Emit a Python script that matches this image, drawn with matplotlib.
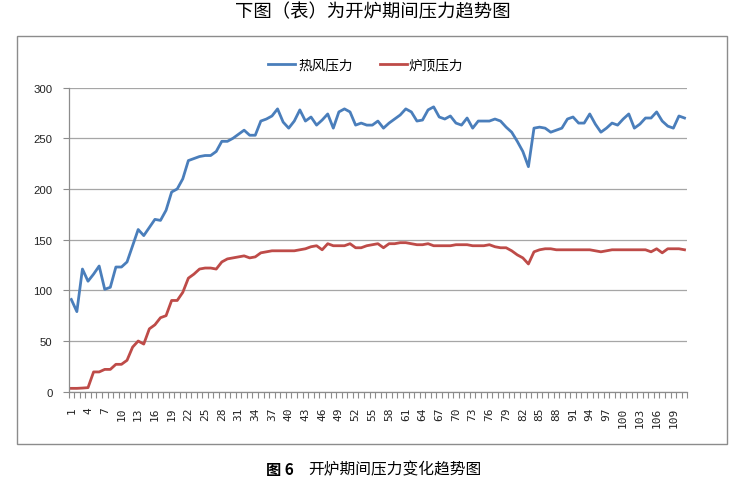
import matplotlib
matplotlib.use("Agg")
import matplotlib.pyplot as plt
from matplotlib.patches import Rectangle
from matplotlib.lines import Line2D
import numpy as np

plt.rcParams['font.family'] = ['Noto Sans CJK SC', 'DejaVu Sans']

title = "下图（表）为开炉期间压力趋势图"
caption_bold = "图 6"
caption_text = "开炉期间压力变化趋势图"
series_names = ["热风压力", "炉顶压力"]

hot_blast = [91, 79, 121, 109, 116, 124, 101, 103, 123, 123,
             128, 144, 160, 154, 162, 170, 169, 179, 197, 200,
             210, 228, 230, 232, 233, 233, 237, 247, 247, 250,
             254, 258, 253, 253, 267, 269, 272, 279, 266, 260,
             267, 278, 267, 271, 263, 268, 274, 260, 276, 279,
             276, 263, 265, 263, 263, 267, 260, 265, 269, 273,
             279, 276, 267, 268, 278, 281, 271, 269, 272, 265,
             263, 270, 260, 267, 267, 267, 269, 267, 261, 256,
             247, 237, 222, 260, 261, 260, 256, 258, 260, 269,
             271, 265, 265, 274, 264, 256, 260, 265, 263, 269,
             274, 260, 264, 270, 270, 276, 267, 262, 260, 272,
             270]
furnace_top = [3.3, 3.3, 3.6, 4, 19.5, 19.5, 22, 22, 27, 27,
               31, 44, 50, 47, 62, 66, 73, 75, 90, 90,
               98, 112, 116, 121, 122, 122, 121, 128, 131, 132,
               133, 134, 132, 133, 137, 138, 139, 139, 139, 139,
               139, 140, 141, 143, 144, 140, 146, 144, 144, 144,
               146, 142, 142, 144, 145, 146, 142, 146, 146, 147,
               147, 146, 145, 145, 146, 144, 144, 144, 144, 145,
               145, 145, 144, 144, 144, 145, 143, 142, 142, 139,
               135, 132, 126, 138, 140, 141, 141, 140, 140, 140,
               140, 140, 140, 140, 139, 138, 139, 140, 140, 140,
               140, 140, 140, 140, 138, 141, 137, 141, 141, 141,
               140]
categories = list(range(1, len(hot_blast) + 1))
y_ticks = [0, 50, 100, 150, 200, 250, 300]

W, H = 754, 489
fig = plt.figure(figsize=(W / 100, H / 100), dpi=100)

# chart frame
fig.patches.append(Rectangle((17 / W, 1 - 444.8 / H), (727 - 17) / W, (444.8 - 36.7) / H,
                             transform=fig.transFigure, fill=False,
                             edgecolor='#8c8c8c', linewidth=1.0))

left, right, top, bottom = 68.5, 687.3, 88.6, 392.7
ax = fig.add_axes([left / W, 1 - bottom / H, (right - left) / W, (bottom - top) / H])

blue = '#4A7EBB'
red = '#BE4B48'
ax.plot(categories, hot_blast, color=blue, lw=2.0, solid_joinstyle='round')
ax.plot(categories, furnace_top, color=red, lw=2.0, solid_joinstyle='round')

ax.set_xlim(0.5, len(categories) + 0.5)
ax.set_ylim(0, 300)
ax.set_yticks(y_ticks)
ax.set_yticklabels([str(v) for v in y_ticks], fontsize=8.2, family=['Liberation Sans'],
                   color='#222222')
ax.yaxis.grid(True, color='#a6a6a6', lw=0.9)
ax.set_axisbelow(True)

major = categories[::3]
ax.set_xticks(major)
ax.set_xticklabels([str(c) for c in major], rotation=90, fontsize=8.0,
                   family=['DejaVu Sans Mono'], color='#222222')
ax.set_xticks(np.arange(0.5, len(categories) + 1, 1.0), minor=True)
ax.tick_params(axis='x', which='major', length=0, pad=10.5)
ax.tick_params(axis='x', which='minor', length=4, color='#8c8c8c', width=0.8)
ax.tick_params(axis='y', length=4, color='#8c8c8c', width=0.8, pad=7.5)

for s in ['top', 'right']:
    ax.spines[s].set_visible(False)
for s in ['left', 'bottom']:
    ax.spines[s].set_color('#8c8c8c')
    ax.spines[s].set_linewidth(0.9)

# title
fig.text(372.5 / W, 1 - 12.5 / H, title, ha='center', va='center', fontsize=13.2)

# legend
ly = 1 - 65 / H
fig.add_artist(Line2D([268 / W, 295 / W], [ly, ly], color=blue, lw=2.0, transform=fig.transFigure))
fig.text(298 / W, ly, series_names[0], ha='left', va='center', fontsize=9.8)
fig.add_artist(Line2D([380 / W, 407 / W], [ly, ly], color=red, lw=2.0, transform=fig.transFigure))
fig.text(409 / W, ly, series_names[1], ha='left', va='center', fontsize=9.8)

# caption
cy = 1 - 470 / H
fig.text(294 / W, cy, caption_bold, ha='right', va='center', fontsize=11, fontweight='bold')
fig.text(308 / W, cy, caption_text, ha='left', va='center', fontsize=11.3)

fig.savefig('out.png', dpi=100)
